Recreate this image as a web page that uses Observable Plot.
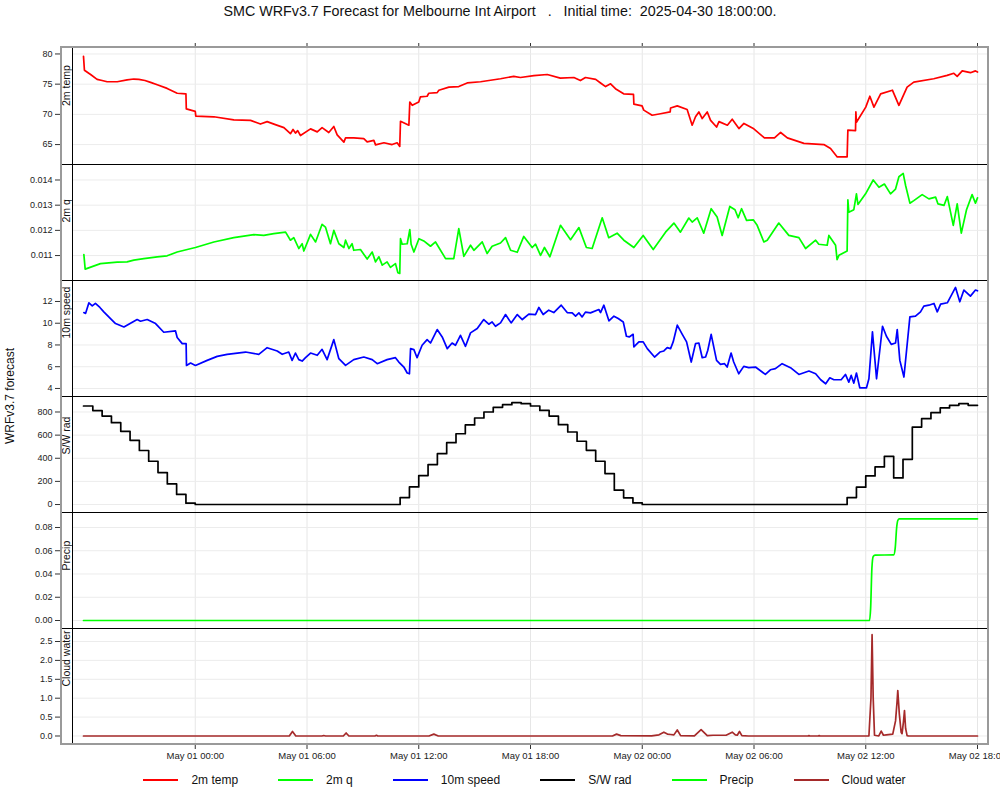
<!DOCTYPE html>
<html><head><meta charset="utf-8">
<script src="https://cdn.jsdelivr.net/npm/d3@7"></script>
<script src="https://cdn.jsdelivr.net/npm/@observablehq/plot@0.6"></script>
<style>
html,body{margin:0;padding:0;background:#fff;overflow:hidden;}
#root{position:relative;width:1000px;height:800px;overflow:hidden;font-family:"Liberation Sans",Arial,sans-serif;color:#111;}
#root svg{position:absolute;left:0;overflow:visible;}
.abs{position:absolute;}
</style></head>
<body><div id="root"></div>
<script>
// ---------------- DATA ----------------
const titleText = "SMC WRFv3.7 Forecast for Melbourne Int Airport   .   Initial time:  2025-04-30 18:00:00.";
const yAxisTitle = "WRFv3.7 forecast";
const seriesNames = ["2m temp", "2m q", "10m speed", "S/W rad", "Precip", "Cloud water"];
const seriesColors = ["#ff0000", "#00ff00", "#0000ff", "#000000", "#00ff00", "#a52a2a"];
const xTickHours = [6, 12, 18, 24, 30, 36, 42, 48];
const xTickLabels = ["May 01 00:00","May 01 06:00","May 01 12:00","May 01 18:00","May 02 00:00","May 02 06:00","May 02 12:00","May 02 18:00"];

// [hours since 2025-04-30 18:00, value]
const temp2m = [[0.00,79.6],[0.05,77.3],[0.38,76.6],[0.73,75.8],[1.0,75.6],[1.27,75.4],[1.81,75.4],[2.34,75.7],[2.70,75.85],[2.97,75.8],[3.3,75.6],[3.60,75.3],[3.96,74.9],[4.49,74.3],[5.03,73.5],[5.50,73.4],[5.52,70.9],[6.0,70.5],[6.03,69.7],[7.0,69.6],[8.07,69.1],[8.97,69.0],[9.50,68.4],[9.86,68.8],[10.3,68.3],[10.76,67.8],[11.11,66.8],[11.25,67.5],[11.38,66.9],[11.5,67.3],[11.65,66.5],[12.19,67.6],[12.55,67.1],[12.81,67.8],[13.17,67.0],[13.44,68.0],[13.62,66.6],[13.98,65.4],[14.07,66.1],[14.51,66.1],[15.05,66.0],[15.23,65.45],[15.59,65.7],[15.68,64.95],[16.13,65.3],[16.57,65.0],[16.84,65.3],[16.98,64.7],[17.02,68.85],[17.47,68.2],[17.52,72.05],[17.65,71.5],[18.0,72.05],[18.09,72.9],[18.45,73.0],[18.54,73.5],[18.99,73.6],[19.08,74.0],[19.62,74.5],[20.15,74.6],[20.60,75.2],[21.32,75.4],[22.39,75.9],[23.1,76.3],[23.46,76.1],[24.18,76.4],[24.9,76.6],[25.6,76.0],[26.33,76.1],[26.68,75.6],[26.95,76.1],[27.5,75.8],[27.76,75.2],[28.03,74.6],[28.3,75.05],[28.56,74.25],[29.0,73.4],[29.53,73.3],[29.55,71.7],[29.99,71.4],[30.08,70.7],[30.53,69.85],[30.98,70.1],[31.5,70.4],[31.52,71.05],[31.88,71.4],[32.41,70.8],[32.68,68.2],[32.86,69.6],[33.04,70.4],[33.22,69.3],[33.49,70.4],[33.67,69.0],[33.99,67.9],[34.12,68.8],[34.57,68.2],[34.83,69.2],[35.19,67.65],[35.46,68.5],[35.99,67.6],[36.56,66.1],[37.1,66.1],[37.43,67.0],[37.79,66.1],[38.68,65.2],[39.75,65.0],[40.11,64.35],[40.47,62.95],[41.0,62.95],[41.04,67.4],[41.45,67.3],[41.47,70.4],[41.5,68.7],[42.0,71.2],[42.22,73.0],[42.44,71.2],[42.8,73.4],[43.43,74.0],[43.78,71.5],[44.22,74.5],[44.58,75.35],[45.65,75.9],[46.37,76.45],[46.73,76.8],[46.91,76.3],[47.18,77.2],[47.62,76.9],[47.89,77.2],[48.0,77.0]];

const q2m = [[0.02,0.01104],[0.09,0.01046],[0.91,0.01068],[1.81,0.01074],[2.34,0.01075],[2.7,0.01082],[3.24,0.01088],[3.96,0.01095],[4.49,0.01099],[5.03,0.01114],[5.57,0.01124],[6.01,0.01132],[7.0,0.01154],[8.07,0.01171],[9.15,0.01183],[9.68,0.0118],[10.22,0.01187],[10.85,0.01193],[11.11,0.01161],[11.29,0.01171],[11.56,0.01128],[11.74,0.01147],[11.83,0.01118],[12.19,0.01184],[12.46,0.01154],[12.81,0.01224],[12.99,0.01213],[13.26,0.01147],[13.44,0.012],[13.71,0.01147],[13.98,0.01132],[14.07,0.01161],[14.25,0.01128],[14.42,0.01147],[14.51,0.01121],[14.87,0.01124],[15.23,0.01086],[15.5,0.01114],[15.68,0.01075],[15.86,0.01095],[16.04,0.01062],[16.3,0.01075],[16.48,0.01053],[16.75,0.01068],[16.88,0.01032],[16.98,0.01029],[17.02,0.01167],[17.11,0.01145],[17.38,0.01147],[17.52,0.01203],[17.59,0.01145],[17.74,0.01114],[18.01,0.01167],[18.27,0.01158],[18.63,0.01137],[18.9,0.01154],[19.44,0.01088],[19.88,0.01088],[20.15,0.01207],[20.42,0.01097],[20.78,0.01141],[20.96,0.01121],[21.41,0.01154],[21.67,0.01108],[21.94,0.01137],[22.39,0.0115],[22.66,0.01171],[22.93,0.01121],[23.29,0.01113],[23.64,0.01176],[24.09,0.01132],[24.27,0.01145],[24.54,0.01101],[24.75,0.01132],[25.04,0.01095],[25.61,0.0122],[26.15,0.01163],[26.6,0.01211],[27.0,0.01132],[27.31,0.01128],[27.85,0.0125],[28.2,0.01171],[28.65,0.01189],[29.01,0.01161],[29.55,0.01132],[30.05,0.0118],[30.59,0.01124],[31.25,0.01193],[31.7,0.01229],[32.05,0.01193],[32.5,0.01249],[32.68,0.01233],[32.95,0.0125],[33.3,0.01189],[33.7,0.01286],[34.02,0.01253],[34.29,0.0118],[34.7,0.01295],[34.98,0.01282],[35.15,0.0125],[35.33,0.01286],[35.6,0.0124],[35.96,0.01242],[36.17,0.0122],[36.53,0.01154],[36.71,0.01161],[37.33,0.01229],[37.87,0.0118],[38.41,0.01171],[38.77,0.01128],[39.31,0.01161],[39.48,0.01145],[39.93,0.01141],[40.02,0.0118],[40.38,0.01141],[40.46,0.01084],[40.56,0.01101],[41.0,0.01118],[41.04,0.01321],[41.09,0.01272],[41.36,0.01282],[41.5,0.01345],[41.58,0.01303],[41.99,0.01345],[42.4,0.014],[42.71,0.01371],[43.0,0.01384],[43.33,0.01345],[43.6,0.01364],[43.78,0.01413],[44.01,0.01426],[44.14,0.01378],[44.37,0.01308],[44.58,0.01318],[45.03,0.01342],[45.39,0.01325],[45.75,0.01332],[45.88,0.01305],[46.2,0.01299],[46.38,0.01334],[46.7,0.0122],[46.91,0.01305],[47.13,0.01189],[47.41,0.01282],[47.71,0.01342],[47.89,0.01308],[48.0,0.01329]];

const speed10m = [[0.02,10.98],[0.11,10.9],[0.29,11.88],[0.47,11.6],[0.64,11.82],[0.88,11.45],[1.09,11.05],[1.45,10.43],[1.72,9.97],[2.17,9.66],[2.43,9.91],[2.88,10.34],[3.06,10.18],[3.42,10.34],[3.87,9.97],[4.31,9.17],[4.94,9.29],[5.03,8.68],[5.3,8.12],[5.51,8.12],[5.53,6.12],[5.75,6.34],[6.01,6.12],[6.64,6.58],[7.18,6.95],[7.71,7.14],[8.7,7.35],[9.41,7.14],[9.86,7.75],[10.4,7.45],[10.67,7.14],[11.02,7.35],[11.2,6.58],[11.38,7.26],[11.56,6.65],[11.74,6.52],[11.92,6.83],[12.19,7.26],[12.55,7.05],[12.81,7.6],[13.08,6.65],[13.44,8.49],[13.71,6.74],[14.07,6.12],[14.51,6.65],[15.05,6.89],[15.5,6.65],[15.77,6.28],[16.3,6.65],[16.75,6.83],[16.93,6.43],[17.2,5.97],[17.38,5.42],[17.5,5.35],[17.56,7.66],[17.74,7.57],[17.91,6.83],[18.18,7.97],[18.45,8.49],[18.63,8.18],[18.99,9.42],[19.26,8.74],[19.53,7.66],[19.79,8.18],[19.97,7.97],[20.24,8.89],[20.51,7.88],[20.78,9.11],[21.14,9.51],[21.49,10.34],[21.76,9.91],[21.94,10.12],[22.12,9.72],[22.39,10.03],[22.66,10.8],[22.96,10.03],[23.29,10.8],[23.56,10.34],[23.91,10.83],[24.27,10.8],[24.45,11.45],[24.68,10.8],[24.98,11.2],[25.25,10.98],[25.65,11.66],[25.97,10.98],[26.24,10.95],[26.42,10.65],[26.6,10.95],[26.77,10.58],[26.95,11.02],[27.22,10.95],[27.67,11.26],[27.76,10.98],[27.94,11.66],[28.21,10.22],[28.48,10.65],[28.71,10.43],[28.98,10.12],[29.15,8.8],[29.3,8.74],[29.51,8.98],[29.55,7.82],[29.82,8.28],[30.05,8.28],[30.27,7.66],[30.66,6.89],[30.95,7.35],[31.16,7.45],[31.34,7.75],[31.52,7.66],[31.66,8.28],[31.88,9.82],[32.15,8.98],[32.38,8.28],[32.63,6.43],[32.86,8.12],[33.04,8.18],[33.22,6.83],[33.4,6.89],[33.52,7.51],[33.7,8.98],[33.99,6.58],[34.2,6.22],[34.42,6.28],[34.56,5.97],[34.77,7.26],[34.91,6.43],[35.18,5.35],[35.45,6.03],[35.72,5.91],[36.08,5.97],[36.61,5.29],[36.88,5.72],[37.15,5.82],[37.51,6.28],[37.96,5.91],[38.41,5.29],[38.95,5.6],[39.31,5.35],[39.58,4.8],[39.85,4.43],[40.07,4.98],[40.29,4.8],[40.68,4.8],[40.91,5.29],[41.09,4.58],[41.22,5.2],[41.36,4.49],[41.5,5.42],[41.68,4.06],[42.04,4.06],[42.17,4.89],[42.36,9.2],[42.58,4.89],[42.9,9.72],[43.11,8.8],[43.37,8.06],[43.6,8.18],[43.69,9.42],[43.83,6.58],[44.05,5.05],[44.37,10.58],[44.67,10.65],[44.94,11.05],[45.12,11.57],[45.39,11.66],[45.66,11.82],[45.84,11.05],[46.02,11.75],[46.38,11.88],[46.82,13.29],[47.05,11.97],[47.27,13.05],[47.62,12.49],[47.89,13.05],[48.0,12.98]];

// S/W radiation, one value every half hour from 0 h to 48 h
const swRadHalfHourly = [852,812,765,708,633,555,467,374,276,178,87,12,
  0,0,0,0,0,0,0,0,0,0,0,0,0,0,0,0,0,0,0,0,0,0,
  60,152,250,345,440,535,612,688,748,800,840,863,881,872,852,814,765,690,627,547,469,374,268,124,58,14,
  0,0,0,0,0,0,0,0,0,0,0,0,0,0,0,0,0,0,0,0,0,0,
  60,150,247,325,417,230,391,670,742,794,835,858,872,858,858];

const precip = [[0,0],[42.2,0],[42.26,0.01],[42.33,0.045],[42.4,0.055],[42.5,0.0562],[43.5,0.0565],[43.58,0.062],[43.66,0.08],[43.72,0.086],[43.8,0.0875],[48,0.0875]];

const cloudWater = [[0,0],[11.05,0],[11.22,0.12],[11.4,0],[12.8,0],[12.9,0.012],[13.0,0],[13.95,0],[14.1,0.08],[14.25,0],[15.65,0],[15.73,0.02],[15.8,0],[18.55,0],[18.81,0.05],[19.05,0],[28.4,0],[28.62,0.05],[28.85,0.01],[30.5,0.005],[30.9,0.03],[31.16,0.1],[31.35,0.05],[31.52,0.04],[31.7,0.03],[31.88,0.16],[32.06,0.01],[32.8,0.005],[33.16,0.17],[33.49,0.01],[33.8,0.02],[34.5,0.02],[34.83,0.1],[35.0,0.03],[35.1,0.02],[35.22,0.12],[35.35,0.01],[35.7,0],[38.9,0],[38.95,0.01],[39.0,0],[39.45,0],[39.5,0.01],[39.55,0],[42.17,0],[42.28,1.0],[42.34,2.68],[42.4,1.0],[42.47,0.02],[42.7,0],[42.83,0.13],[42.95,0.02],[43.1,0.03],[43.45,0.05],[43.6,0.4],[43.68,0.9],[43.72,1.2],[43.8,0.6],[43.9,0.1],[43.95,0.06],[44.03,0.4],[44.08,0.67],[44.14,0.2],[44.22,0.01],[44.3,0],[48,0]];

const yTicksTemp = [65, 70, 75, 80];
const yTicksQ = [0.011, 0.012, 0.013, 0.014];
const yTicksSpeed = [4, 6, 8, 10, 12];
const yTicksRad = [0, 200, 400, 600, 800];
const yTicksPrecip = [0, 0.02, 0.04, 0.06, 0.08];
const yTicksCloud = [0, 0.5, 1.0, 1.5, 2.0, 2.5];

// ---------------- LAYOUT / DRAW ----------------
const t0 = Date.UTC(2025, 3, 30, 18);
const toDate = h => new Date(t0 + h * 3600e3);
const tickDates = xTickHours.map(toDate);
const pad = 11 / 18.625;
const xDomain = [toDate(-pad), toDate(48 + pad)];
const font = "Liberation Sans, Arial, sans-serif";

const panels = [
  {data: temp2m, domain: [61.7, 81.07], ticks: yTicksTemp, fmt: d3.format("d"), curve: "linear"},
  {data: q2m, domain: [0.01001, 0.014615], ticks: yTicksQ, fmt: d3.format(".3f"), curve: "linear"},
  {data: speed10m, domain: [3.26, 13.93], ticks: yTicksSpeed, fmt: d3.format("d"), curve: "linear"},
  {data: swRadHalfHourly.map((v, i) => [i * 0.5, v]), domain: [-69, 934], ticks: yTicksRad, fmt: d3.format("d"), curve: "step-after"},
  {data: precip, domain: [-0.00688, 0.0929], ticks: yTicksPrecip, fmt: d3.format(".2f"), curve: "monotone-x"},
  {data: cloudWater, domain: [-0.225, 2.844], ticks: yTicksCloud, fmt: d3.format(".1f"), curve: "linear"}
];
const bounds = [47, 164, 280, 396, 512, 628, 744];
const root = document.getElementById("root");

panels.forEach((p, i) => {
  const ph = bounds[i + 1] - bounds[i];
  const mt = i === 0 ? 6 : 0;
  const mb = i === panels.length - 1 ? 30 : 0;
  const marks = [
    Plot.gridX(tickDates, {stroke: "#e6e6e6", strokeOpacity: 1}),
    Plot.gridY(p.ticks, {stroke: "#ececec", strokeOpacity: 1}),
    Plot.axisY(p.ticks, {anchor: "left", tickFormat: p.fmt, tickSize: 6, tickPadding: 3, dx: -11, fontSize: 9, label: null, stroke: "#333", fill: "#222"}),
    Plot.line(p.data, {x: d => toDate(d[0]), y: d => d[1], stroke: seriesColors[i], strokeWidth: 1.7, curve: p.curve}),
    Plot.text([seriesNames[i]], {text: d => d, frameAnchor: "left", dx: -5.5, rotate: -90, fontSize: 10.5, fill: "#111"}),
    Plot.frame({stroke: "#000", strokeWidth: 1})
  ];
  if (i === 0) marks.push(Plot.axisX(tickDates, {anchor: "top", tickSize: 5, tickFormat: () => "", label: null, stroke: "#333"}));
  if (i === panels.length - 1) marks.push(Plot.axisX(tickDates, {anchor: "bottom", tickSize: 5, tickPadding: 3, fontSize: 9.5, label: null, stroke: "#333", fill: "#222",
    tickFormat: d => xTickLabels[tickDates.findIndex(t => +t === +d)]}));
  const svg = Plot.plot({
    width: 1000, height: ph + mt + mb,
    marginLeft: 72, marginRight: 12, marginTop: mt, marginBottom: mb,
    x: {type: "utc", domain: xDomain, axis: null},
    y: {domain: p.domain, axis: null},
    style: {fontFamily: font, background: "transparent", overflow: "visible"},
    marks
  });
  svg.style.top = (bounds[i] - mt) + "px";
  root.appendChild(svg);

  // strip box
  const s = document.createElement("div");
  s.className = "abs";
  Object.assign(s.style, {left: "61px", top: bounds[i] + "px", width: "12px", height: (ph + 1) + "px", boxSizing: "border-box", border: "1px solid #000"});
  root.appendChild(s);
});

// outer gray box
const box = document.createElement("div");
box.className = "abs";
Object.assign(box.style, {left: "60px", top: "46px", width: "929px", height: "699px", boxSizing: "border-box", border: "2px solid #9a9a9a"});
root.appendChild(box);

// title
const title = document.createElement("div");
title.className = "abs";
title.textContent = titleText;
Object.assign(title.style, {left: "0", top: "3px", width: "1000px", textAlign: "center", fontSize: "14.3px", whiteSpace: "pre"});
root.appendChild(title);

// y title
const yt = document.createElement("div");
yt.className = "abs";
yt.textContent = yAxisTitle;
Object.assign(yt.style, {left: "10px", top: "396px", fontSize: "12px", whiteSpace: "nowrap", transform: "translate(-50%,-50%) rotate(-90deg)"});
root.appendChild(yt);

// legend
const leg = document.createElement("div");
leg.className = "abs";
Object.assign(leg.style, {left: "61px", width: "927px", top: "771px", height: "18px", display: "flex", justifyContent: "center", alignItems: "center", fontSize: "12px"});
seriesNames.forEach((n, i) => {
  const it = document.createElement("div");
  Object.assign(it.style, {display: "flex", alignItems: "center", marginRight: i < seriesNames.length - 1 ? "40px" : "0"});
  const sw = document.createElement("div");
  Object.assign(sw.style, {width: "35px", height: "0", borderTop: "2px solid " + seriesColors[i], marginRight: "13px"});
  const tx = document.createElement("span");
  tx.textContent = n;
  it.appendChild(sw); it.appendChild(tx);
  leg.appendChild(it);
});
root.appendChild(leg);
</script>
</body></html>
